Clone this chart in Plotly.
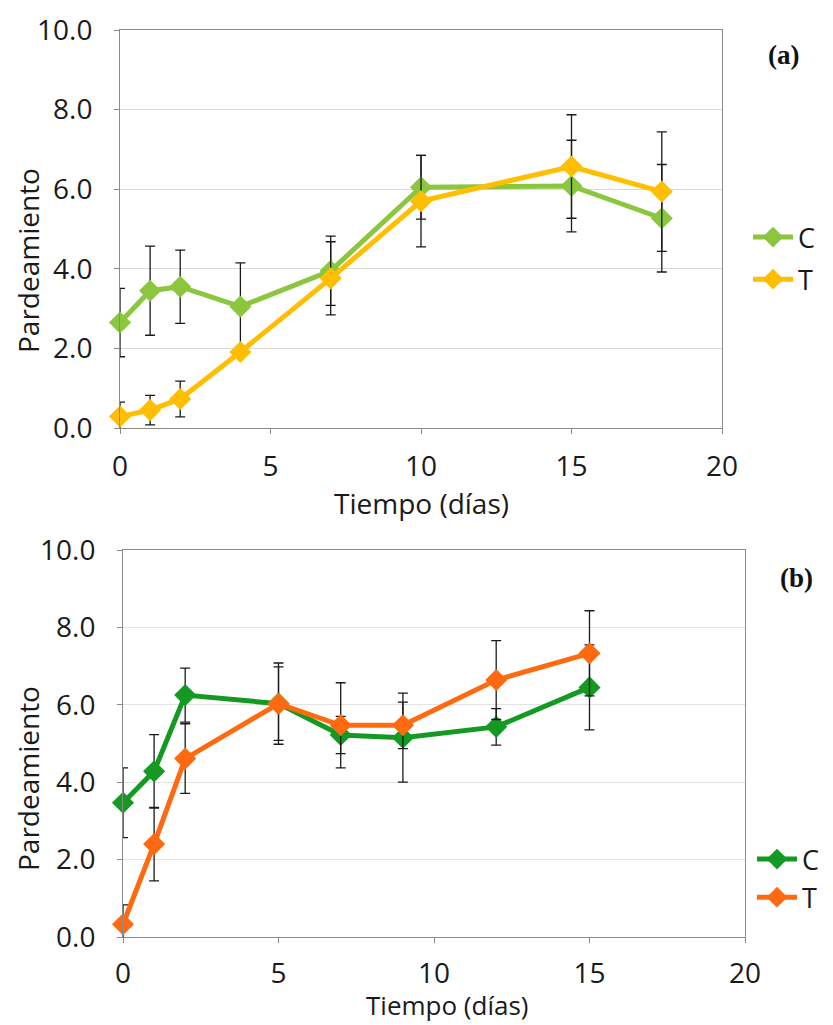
import plotly.graph_objects as go

# ---------------- data ----------------
days_a = [0, 1, 2, 4, 7, 10, 15, 18]
c_a = [2.65, 3.45, 3.55, 3.05, 3.95, 6.05, 6.08, 5.27]
c_a_err = [0.86, 1.12, 0.92, 1.10, 0.87, 0.80, 1.15, 1.35]
t_a = [0.29, 0.45, 0.73, 1.91, 3.76, 5.70, 6.57, 5.94]
t_a_err = [0.36, 0.37, 0.45, 0.10, 0.92, 1.15, 1.30, 1.50]

days_b = [0, 1, 2, 5, 7, 9, 12, 15]
c_b = [3.47, 4.28, 6.25, 6.03, 5.22, 5.15, 5.43, 6.45]
c_b_err = [0.90, 0.95, 0.70, 1.05, 0.48, 1.15, 0.47, 1.10]
t_b = [0.33, 2.40, 4.61, 6.03, 5.47, 5.47, 6.64, 7.33]
t_b_err = [0.50, 0.95, 0.90, 0.95, 1.10, 0.60, 1.02, 1.10]

series_names = ["C", "T"]
x_ticks = [0, 5, 10, 15, 20]
y_ticks = [0, 2, 4, 6, 8, 10]
x_title = "Tiempo (días)"
y_title = "Pardeamiento"
panel_labels = ["(a)", "(b)"]

# ---------------- style ----------------
OFF = 8                      # page body margin of the browser
W, H = 833 - OFF, 1025 - OFF
FONT = "Open Sans, Lato, DejaVu Sans, sans-serif"
TXT = "#1a1a1a"
col_a = ["#8CC63F", "#FFBE00"]
col_b = ["#149A22", "#FF6A10"]

def px_x(p):
    return (p - OFF) / W

def px_y(p):
    return 1 - (p - OFF) / H

fig = go.Figure()

def add_series(x, y, err, color, name, xa, ya, legend):
    fig.add_trace(go.Scatter(
        x=x, y=y, name=name, mode="lines+markers",
        xaxis=xa, yaxis=ya, legend=legend, legendgroup=legend + name,
        line=dict(color=color, width=5),
        marker=dict(symbol="diamond", size=17, color=color),
        error_y=dict(type="data", array=err, visible=True,
                     color="#1a1a1a", thickness=1.3, width=5),
        cliponaxis=False,
    ))

add_series(days_a, c_a, c_a_err, col_a[0], series_names[0], "x", "y", "legend")
add_series(days_a, t_a, t_a_err, col_a[1], series_names[1], "x", "y", "legend")
add_series(days_b, c_b, c_b_err, col_b[0], series_names[0], "x2", "y2", "legend2")
add_series(days_b, t_b, t_b_err, col_b[1], series_names[1], "x2", "y2", "legend2")

axis_common = dict(
    showline=True, mirror=True, linecolor="#8a8a8a", linewidth=1,
    ticks="outside", ticklen=5, tickcolor="#8a8a8a",
    zeroline=False, automargin=False,
    tickfont=dict(family=FONT, size=28, color=TXT),
)

fig.update_layout(
    width=W, height=H,
    margin=dict(l=0, r=0, t=0, b=0, autoexpand=False),
    paper_bgcolor="white", plot_bgcolor="white",
    xaxis=dict(domain=[px_x(120), px_x(722)], anchor="y", range=[0, 20],
               tickvals=x_ticks, showgrid=False, ticklabelstandoff=8, **axis_common),
    yaxis=dict(domain=[px_y(428), px_y(30)], anchor="x", range=[0, 10],
               tickvals=y_ticks, tickformat=".1f", showgrid=True,
               gridcolor="#d9d9d9", gridwidth=1, ticklabelstandoff=16, **axis_common),
    xaxis2=dict(domain=[px_x(123), px_x(745)], anchor="y2", range=[0, 20],
                tickvals=x_ticks, showgrid=False, ticklabelstandoff=6, **axis_common),
    yaxis2=dict(domain=[px_y(937), px_y(550)], anchor="x2", range=[0, 10],
                tickvals=y_ticks, tickformat=".1f", showgrid=True,
                gridcolor="#e2e2e2", gridwidth=1, ticklabelstandoff=16, **axis_common),
    legend=dict(x=px_x(748), y=px_y(213), xanchor="left", yanchor="top",
                font=dict(family=FONT, size=27, color=TXT),
                bgcolor="rgba(0,0,0,0)", tracegroupgap=4, itemwidth=40),
    legend2=dict(x=px_x(752), y=px_y(835), xanchor="left", yanchor="top",
                 font=dict(family=FONT, size=27, color=TXT),
                 bgcolor="rgba(0,0,0,0)", tracegroupgap=0, itemwidth=40),
    showlegend=True,
)

def note(text, x, y, size, family=FONT, angle=0, color=TXT):
    return dict(text=text, x=px_x(x), y=px_y(y), xref="paper", yref="paper",
                xanchor="center", yanchor="middle", showarrow=False,
                textangle=angle, font=dict(family=family, size=size, color=color))

ann = [
    note(x_title, 421, 503, 28),
    note(x_title, 447, 1005, 26),
    note(y_title, 28, 261, 28, angle=-90),
    note(y_title, 28, 779, 28, angle=-90),
    note("<b>" + panel_labels[0] + "</b>", 783, 55, 27, family="Liberation Serif, serif", color="#111"),
    note("<b>" + panel_labels[1] + "</b>", 796, 578, 27, family="Liberation Serif, serif", color="#111"),
]
fig.update_layout(annotations=ann)

fig.write_html("out.html")
